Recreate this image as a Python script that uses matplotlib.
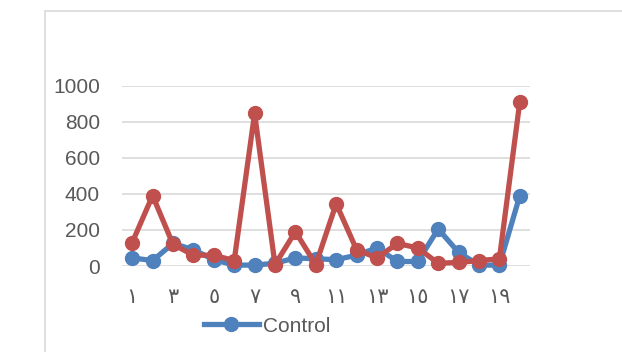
import matplotlib
matplotlib.use("Agg")
import matplotlib.pyplot as plt
from matplotlib.patches import Rectangle

categories = list(range(1, 21))
control = [45, 30, 125, 90, 35, 5, 5, 15, 45, 40, 35, 60, 100, 25, 25, 205, 75, 5, 5, 390]
treatment = [130, 390, 120, 60, 60, 30, 845, 8, 190, 8, 345, 90, 45, 125, 100, 15, 20, 30, 40, 910]
yticks = [0, 200, 400, 600, 800, 1000]
xtick_pos = [1, 3, 5, 7, 9, 11, 13, 15, 17, 19]
xtick_labels = ["١", "٣", "٥", "٧", "٩", "١١", "١٣", "١٥", "١٧", "١٩"]

W, H = 622, 352
fig = plt.figure(figsize=(W / 100, H / 100), dpi=100)
fig.patch.set_facecolor("white")

# chart area border
fig.patches.append(Rectangle((45 / W, -0.1), 1.2, 1.1 - 11 / H, transform=fig.transFigure,
                             fill=False, edgecolor="#d9d9d9", linewidth=1.2, zorder=0))

ax = fig.add_axes([122 / W, 1 - 266 / H, (530 - 122) / W, (266 - 85.5) / H])
blue = "#4f81bd"
red = "#c0504d"
ax.plot(categories, control, color=blue, lw=3.8, marker="o", ms=10, clip_on=False,
        label="Control", zorder=3)
ax.plot(categories, treatment, color=red, lw=3.8, marker="o", ms=10, clip_on=False,
        zorder=4)

ax.set_xlim(0.5, 20.5)
ax.set_ylim(0, 1000)
ax.set_yticks(yticks)
ax.set_yticklabels([str(v) for v in yticks], fontsize=15, color="#595959",
                   family=["Liberation Sans", "DejaVu Sans"])
ax.set_xticks(xtick_pos)
ax.set_xticklabels(xtick_labels, fontsize=15, color="#595959", family=["DejaVu Sans"])
ax.tick_params(axis="y", length=0, pad=16)
ax.tick_params(axis="x", length=0, pad=15)
ax.grid(axis="y", color="#d9d9d9", lw=1.2)
ax.set_axisbelow(True)
for s in ax.spines.values():
    s.set_visible(False)

leg = fig.legend(handles=[ax.lines[0]], loc="center left", bbox_to_anchor=(196 / W, 1 - 326 / H),
                 frameon=False, handlelength=2.6, handletextpad=0.2, borderaxespad=0,
                 prop={"family": ["Liberation Sans", "DejaVu Sans"], "size": 15})
for t in leg.get_texts():
    t.set_color("#595959")

fig.savefig("out.png", dpi=100, facecolor="white")
